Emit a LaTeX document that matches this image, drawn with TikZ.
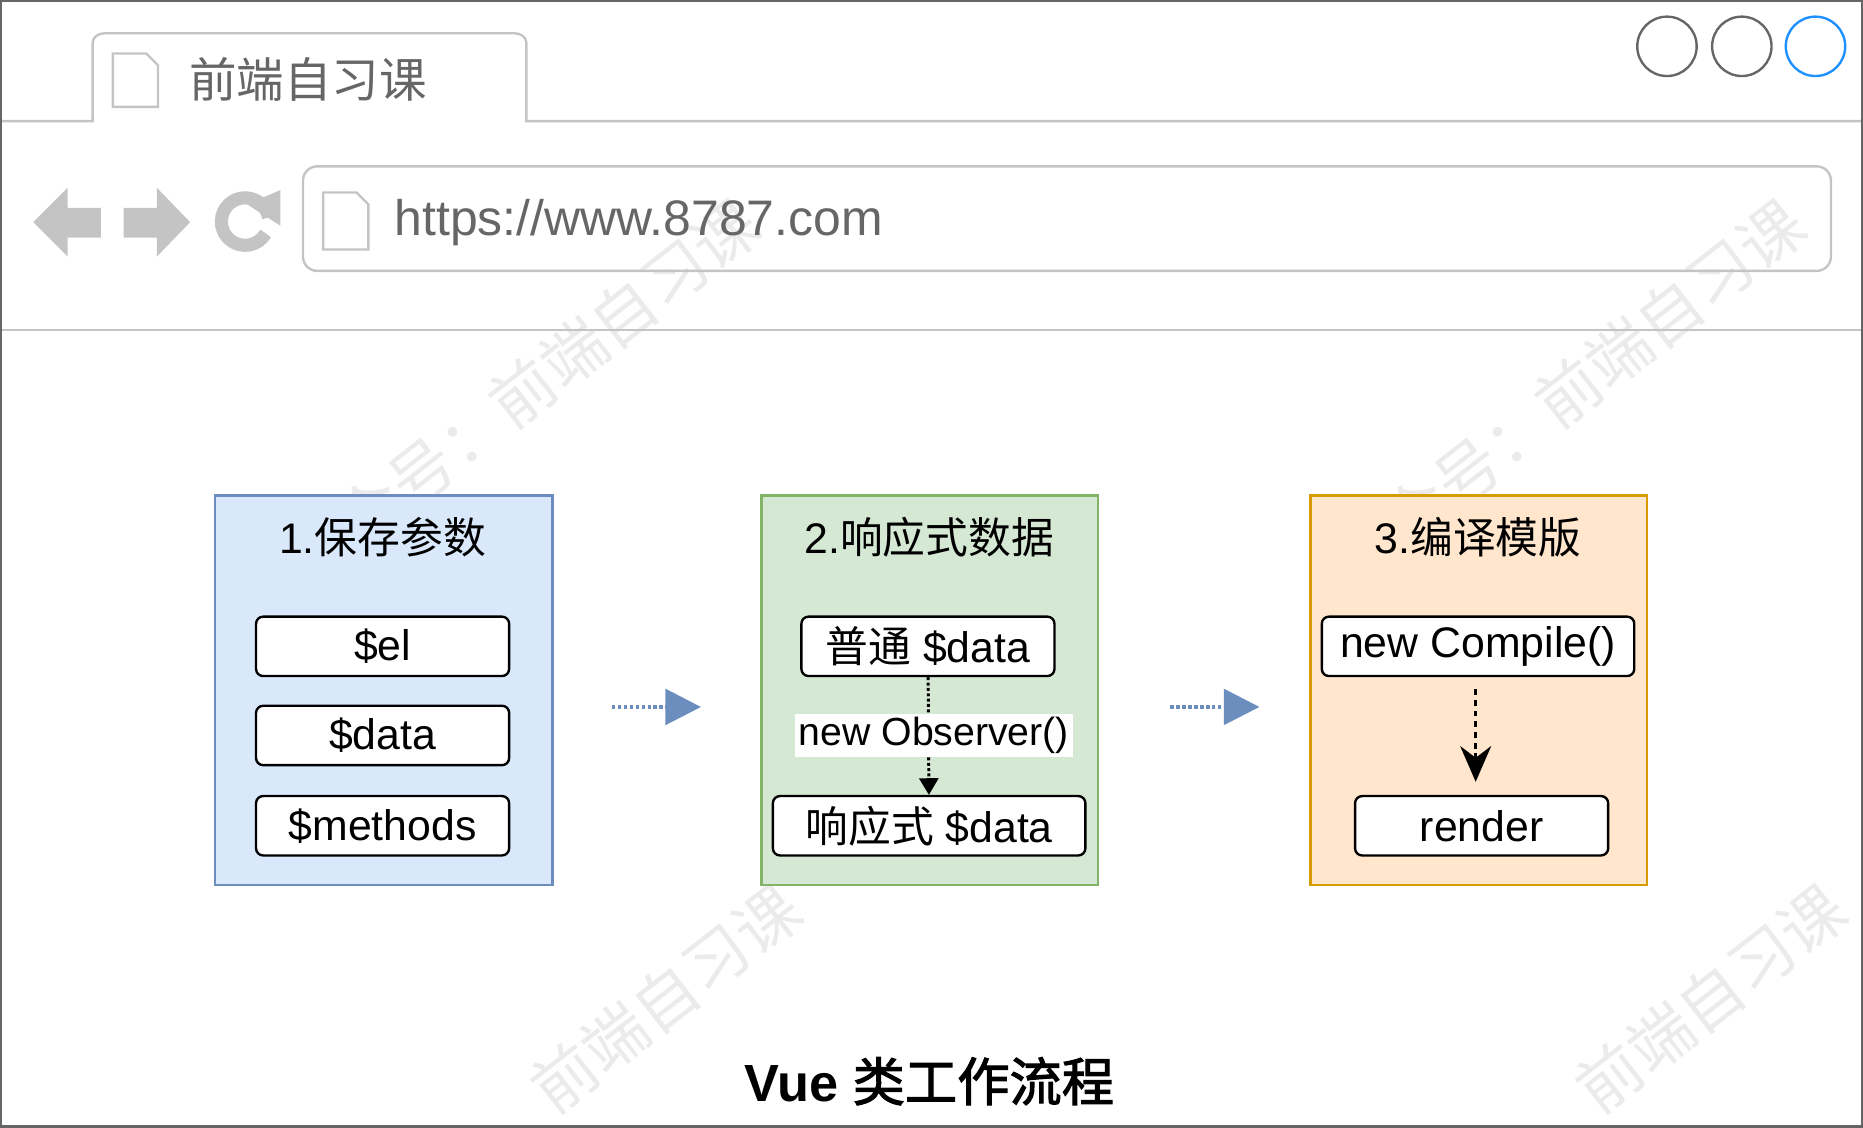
\documentclass[tikz,border=0pt]{standalone}
\usepackage{fontspec}
\setmainfont{Liberation Sans}
\newfontfamily\cjk[AutoFakeBold=2]{Noto Sans CJK SC}
\usetikzlibrary{arrows.meta}
\definecolor{bluefill}{HTML}{DAE8FC}
\definecolor{bluedraw}{HTML}{6C8EBF}
\definecolor{greenfill}{HTML}{D5E8D4}
\definecolor{greendraw}{HTML}{82B366}
\definecolor{orangefill}{HTML}{FFE6CC}
\definecolor{orangedraw}{HTML}{D79B00}
\definecolor{chrome}{HTML}{C4C4C4}
\definecolor{chrometext}{HTML}{666666}
\definecolor{dotblue}{HTML}{1E90FF}
\tikzset{every picture/.style={line width=1.5pt}}
\tikzset{
  stage/.style={draw=#1draw, fill=#1fill, line width=2pt},
  item/.style={draw, fill=white, rounded corners=6pt, line width=2pt, minimum width=#1, minimum height=50pt, inner sep=0pt, font=\fontsize{36}{38}\selectfont},
  title/.style={font=\fontsize{36}{38}\selectfont},
  flow/.style={draw=bluedraw, line width=3pt, dotted, -{Triangle[length=30pt,width=30pt]}},
  watermark/.style={text=black!8, rotate=38, font=\cjk\fontsize{54}{56}\selectfont}
}
\begin{document}
\begin{tikzpicture}[x=1pt,y=-1pt]
\useasboundingbox (0,0) rectangle (1568,949);

% watermarks
\node[watermark] (wm1) at (440,330) {公众号：前端自习课};
\node[watermark] (wm2) at (1320,330) {公众号：前端自习课};
\node[watermark] (wm3) at (560,840) {前端自习课};
\node[watermark] (wm4) at (1440,840) {前端自习课};

% browser frame
\draw[chrome, line width=2pt] (0,102) -- (78,102) -- (78,36) to[out=90,in=180] (88,28) -- (433,28) to[out=0,in=90] (443,36) -- (443,102) -- (1568,102);
\draw[chrome, line width=2pt] (0,278) -- (1568,278);
\draw[chrometext, line width=2pt] (1,1) rectangle (1567,948);
\draw[chrome, line width=2pt] (95,45) -- (123,45) -- (133,55) -- (133,90) -- (95,90) -- cycle;
\node[anchor=west, text=chrometext, font=\cjk\fontsize{40}{42}\selectfont] (tab) at (155,67) {前端自习课};
\draw[chrometext, line width=2pt] (1403,39) circle (25);
\draw[chrometext, line width=2pt] (1466,39) circle (25);
\draw[dotblue, line width=2pt] (1528,39) circle (25);

% navigation
\fill[chrome] (28,187) -- (57,158) -- (57,175) -- (85,175) -- (85,200) -- (57,200) -- (57,216) -- cycle;
\fill[chrome] (160,187) -- (132,158) -- (132,175) -- (104,175) -- (104,200) -- (132,200) -- (132,216) -- cycle;
\draw[chrome, line width=11pt] (226,183) arc (-10:-330:20);
\fill[chrome] (236,160) -- (236,190) -- (208,172) -- cycle;
\draw[chrome, line width=2pt, rounded corners=12pt] (255,140) rectangle (1541,228);
\draw[chrome, line width=2pt] (272,162) -- (300,162) -- (310,172) -- (310,210) -- (272,210) -- cycle;
\node[anchor=west, text=chrometext, font=\fontsize{42}{44}\selectfont] (url) at (328,187) {https://www.8787.com};

% stage 1
\draw[stage=blue] (181,417) rectangle (465,745);
\node[title] (t1) at (322,452) {1.{\cjk 保存参数}};
\node[item=213pt] (el) at (322,544) {\$el};
\node[item=213pt] (data) at (322,619) {\$data};
\node[item=213pt] (methods) at (322,695) {\$methods};

% stage 2
\draw[stage=green] (641,417) rectangle (924,745);
\node[title] (t2) at (782,452) {2.{\cjk 响应式数据}};
\node[item=213pt] (plain) at (781,544) {{\cjk 普通} \$data};
\node[item=263pt] (reactive) at (782,695) {{\cjk 响应式} \$data};
\draw[line width=2.5pt, dotted, -{Triangle[length=14pt,width=16pt]}] (plain) -- (reactive);
\node[fill=white, inner sep=3pt, font=\fontsize{33}{35}\selectfont] (obs) at (786,619) {new Observer()};

% stage 3
\draw[stage=orange] (1103,417) rectangle (1386,745);
\node[title] (t3) at (1244,452) {3.{\cjk 编译模版}};
\node[item=263pt] (compile) at (1244,544) {new Compile()};
\node[item=213pt] (render) at (1247,695) {render};
\draw[line width=2.5pt, dashed, dash pattern=on 5pt off 4pt, -{Stealth[length=30pt,width=26pt]}] (1242,580) -- (1242,658);

% flow
\coordinate (a1) at (515,595);
\coordinate (b1) at (590,595);
\coordinate (a2) at (985,595);
\coordinate (b2) at (1060,595);
\draw[flow] (a1) -- (b1);
\draw[flow] (a2) -- (b2);

\node[font=\bfseries\fontsize{44}{46}\selectfont] (cap) at (782,910) {Vue {\cjk\bfseries 类工作流程}};
\end{tikzpicture}
\end{document}
